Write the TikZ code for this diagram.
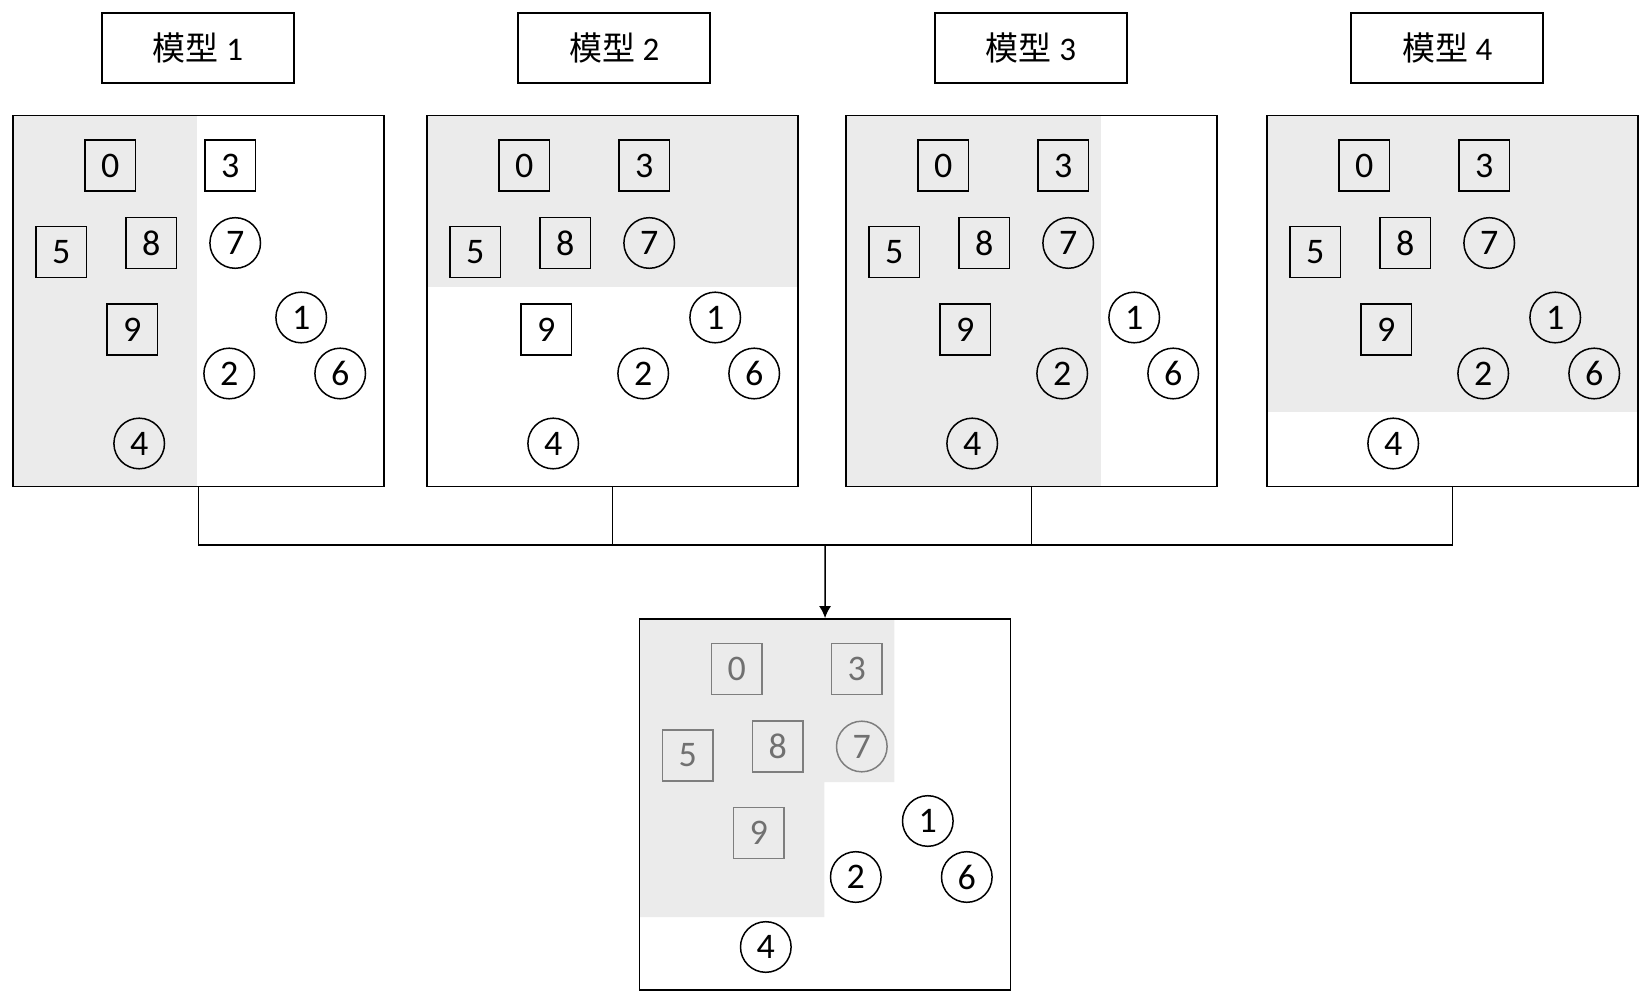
\documentclass[tikz,border=0pt]{standalone}
\usepackage{fontspec}
\setmainfont{Carlito}
\newfontfamily\cjk{Noto Sans CJK SC}
\usetikzlibrary{arrows.meta,positioning,calc}
\tikzset{>={Latex[length=6pt,width=6pt]}}
\definecolor{shadegray}{HTML}{EBEBEB}
\definecolor{fadegray}{HTML}{707070}
\tikzset{
  panel/.style={draw,line width=0.9pt,minimum size=185.5pt,inner sep=0pt},
  titlebox/.style={draw,line width=0.9pt,minimum width=96pt,minimum height=35.3pt,inner sep=0pt,font=\fontsize{16.5}{18}\selectfont},
  sq/.style={draw,line width=0.75pt,minimum size=25.3pt,inner sep=0pt,font=\fontsize{18}{18}\selectfont},
  rd/.style={draw,circle,line width=0.75pt,minimum size=25.3pt,inner sep=0pt,font=\fontsize{18}{18}\selectfont},
  faded/.style={draw=fadegray!90,text=fadegray}
}
\newcommand\items[2]{%
  \node[sq,#2] (#1-0) at (97.5,50) {0};
  \node[sq,#2] (#1-3) at (217.5,50) {3};
  \node[sq,#2] (#1-5) at (48.5,136.5) {5};
  \node[sq,#2] (#1-8) at (138.5,127.5) {8};
  \node[rd,#2] (#1-7) at (222.5,127.5) {7};
  \node[sq,#2] (#1-9) at (119.5,214) {9};
  \node[rd] (#1-1) at (288.5,202) {1};
  \node[rd] (#1-2) at (216.5,258) {2};
  \node[rd] (#1-6) at (327.5,258) {6};
  \node[rd] (#1-4) at (126.5,328) {4};
}

\begin{document}
\begin{tikzpicture}[x=0.5pt,y=-0.5pt]
  \useasboundingbox (0,0) rectangle (1652,1004);
  % four models
  \foreach \i/\px/\tx/\sx/\sy in {1/12.7/198/184/371, 2/426.7/614.3/371/172, 3/845.7/1031/255.3/371, 4/1266.7/1447.2/371/297} {
    \node[titlebox] (t\i) at (\tx,48) {{\cjk 模型} \i};
    \begin{scope}[shift={(\px,115.5)}]
      \fill[shadegray] (0,0) rectangle (\sx,\sy);
      \node[panel] (p\i) at (185.75,185.5) {};
      \items{m\i}{}
    \end{scope}
  }
  % combined result
  \begin{scope}[shift={(639.3,619)}]
    \fill[shadegray] (0,0) -- (255,0) -- (255,163) -- (185,163) -- (185,298) -- (0,298) -- cycle;
    \node[panel] (pall) at (185.75,185.5) {};
    \items{r}{faded}
  \end{scope}
  \coordinate (hub) at (825,545);
  \draw[line width=0.75pt] (p1.south) -- (p1.south |- hub) -- (p4.south |- hub) -- (p4.south);
  \draw[line width=0.75pt] (p2.south) -- (p2.south |- hub);
  \draw[line width=0.75pt] (p3.south) -- (p3.south |- hub);
  \draw[->,line width=0.75pt] (hub) -- (pall.north);
\end{tikzpicture}
\end{document}
